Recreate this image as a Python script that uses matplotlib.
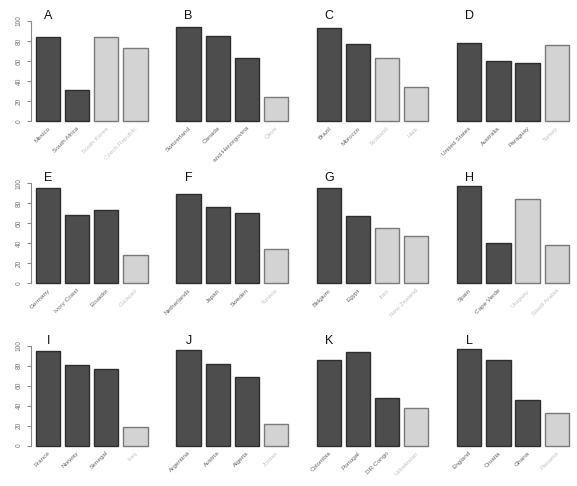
import numpy as np
import matplotlib
matplotlib.use("Agg")
import matplotlib.pyplot as plt
from matplotlib.transforms import Bbox, TransformedBbox

plt.rcParams["font.family"] = ["Liberation Sans", "DejaVu Sans"]

# group letters, team names, scores and whether the team is highlighted (dark)
groups = ["A", "B", "C", "D", "E", "F", "G", "H", "I", "J", "K", "L"]
teams = [
    ["Mexico", "South Africa", "South Korea", "Czech Republic"],
    ["Switzerland", "Canada", "Bosnia and Herzegovina", "Qatar"],
    ["Brazil", "Morocco", "Scotland", "Haiti"],
    ["United States", "Australia", "Paraguay", "Turkey"],
    ["Germany", "Ivory Coast", "Ecuador", "Curaçao"],
    ["Netherlands", "Japan", "Sweden", "Tunisia"],
    ["Belgium", "Egypt", "Iran", "New Zealand"],
    ["Spain", "Cape Verde", "Uruguay", "Saudi Arabia"],
    ["France", "Norway", "Senegal", "Iraq"],
    ["Argentina", "Austria", "Algeria", "Jordan"],
    ["Colombia", "Portugal", "DR Congo", "Uzbekistan"],
    ["England", "Croatia", "Ghana", "Panama"],
]
scores = [
    [83.7, 31.3, 83.5, 72.7],
    [93.7, 85.3, 63.0, 24.3],
    [92.7, 76.7, 63.0, 34.0],
    [78.0, 60.0, 58.0, 75.7],
    [95.7, 68.0, 73.7, 28.7],
    [89.7, 76.0, 70.0, 34.0],
    [95.3, 67.0, 55.0, 47.0],
    [97.3, 40.7, 84.7, 38.0],
    [94.7, 80.8, 76.8, 18.9],
    [96.0, 81.5, 68.2, 21.2],
    [85.4, 94.0, 47.4, 37.7],
    [96.7, 85.8, 45.7, 33.1],
]
dark = [
    [1, 1, 0, 0],
    [1, 1, 1, 0],
    [1, 1, 0, 0],
    [1, 1, 1, 0],
    [1, 1, 1, 0],
    [1, 1, 1, 0],
    [1, 1, 0, 0],
    [1, 1, 0, 0],
    [1, 1, 1, 0],
    [1, 1, 1, 0],
    [1, 1, 1, 0],
    [1, 1, 1, 0],
]

W, H = 577, 486
fig = plt.figure(figsize=(W / 100, H / 100), dpi=100)

px_per_unit = 24.25
ax_w = 5.0 * px_per_unit
ax_h = 108.0
bar_pos = 0.2 + 1.2 * np.arange(4) + 0.5

for k, g in enumerate(groups):
    r, c = divmod(k, 4)
    left = 30.8 + 140.4 * c
    top = 17.0 + 162.3 * r
    ax = fig.add_axes([left / W, 1 - (top + ax_h) / H, ax_w / W, ax_h / H])

    fills = ["#4d4d4d" if d else "#d3d3d3" for d in dark[k]]
    edges = ["#2e2e2e" if d else "#7a7a7a" for d in dark[k]]
    ax.bar(bar_pos, scores[k], width=1.0, color=fills, edgecolor=edges, linewidth=1.0)
    ax.set_xlim(-0.016, 4.984)
    ax.set_ylim(-4, 104)

    for s in ["top", "right", "bottom"]:
        ax.spines[s].set_visible(False)
    ax.set_xticks([])
    if c == 0:
        ax.spines["left"].set_bounds(0, 100)
        ax.spines["left"].set_color("#8a8a8a")
        ax.spines["left"].set_linewidth(0.8)
        ax.set_yticks([0, 20, 40, 60, 80, 100])
        ax.tick_params(axis="y", length=2.6, width=0.8, color="#8a8a8a",
                       labelsize=4.8, labelcolor="#777777", pad=3.0)
        for lab in ax.get_yticklabels():
            lab.set_rotation(90)
            lab.set_va("center")
    else:
        ax.spines["left"].set_visible(False)
        ax.set_yticks([])

    # figure region of this panel, used to clip the long labels
    clip = TransformedBbox(
        Bbox.from_extents(c / 4, 1 - (r + 1) / 3, (c + 1) / 4, 1 - r / 3),
        fig.transFigure)
    for x, name, d in zip(bar_pos, teams[k], dark[k]):
        t = ax.text(x + 0.05, -6.5, name, rotation=45, rotation_mode="anchor",
                    ha="right", va="center", fontsize=4.6,
                    color="#666666" if d else "#c4c4c4")
        t.set_clip_on(True)
        t.set_clip_box(clip)

    ax.text(bar_pos[0], 105, g, ha="center", va="center", fontsize=9,
            color="#111111", clip_on=False)

fig.savefig("out.png", dpi=100)
